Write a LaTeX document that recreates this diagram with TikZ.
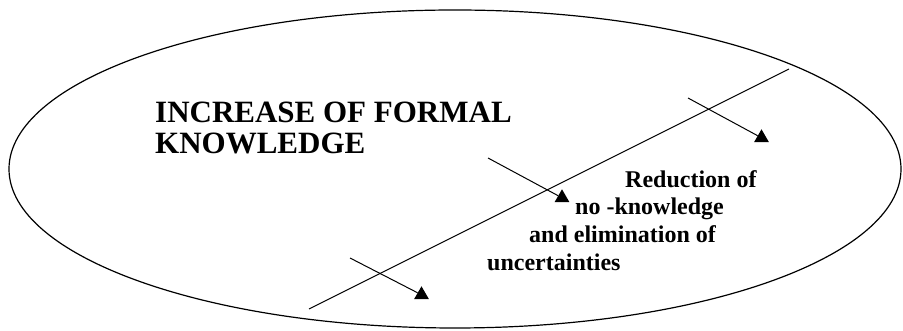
\documentclass[tikz,border=0pt]{standalone}
\usepackage{fontspec}
\setmainfont{Liberation Serif}
\usetikzlibrary{shapes.geometric}
\tikzset{
  outline/.style={draw=black, line width=1.2pt, ellipse, inner sep=0pt},
  thinline/.style={draw=black, line width=1pt},
  tri/.style={regular polygon, regular polygon sides=3, minimum size=17pt, inner sep=0pt, fill=black, draw=none},
  headtxt/.style={anchor=base west, inner sep=0pt, font=\bfseries\fontsize{31}{31}\selectfont},
  bodytxt/.style={anchor=base west, inner sep=0pt, font=\bfseries\fontsize{24}{27}\selectfont}
}
\begin{document}
\begin{tikzpicture}[x=1pt,y=1pt]
\useasboundingbox (0,0) rectangle (903,331);
\node[outline, minimum width=892pt, minimum height=318pt] (ell) at (455,162) {};
% main diagonal line
\coordinate (m1) at (309,22);
\coordinate (m2) at (789,262);
\draw[thinline] (m1) -- (m2);
% arrows
\node[tri] (t1) at (761.5,193.2) {};
\node[tri] (t2) at (562,133.2) {};
\node[tri] (t3) at (421.5,36.2) {};
\coordinate (s1) at (688,233);
\coordinate (s2) at (488,173);
\coordinate (s3) at (350,73);
\draw[thinline] (s1) -- (t1);
\draw[thinline] (s2) -- (t2);
\draw[thinline] (s3) -- (t3);
% texts
\node[headtxt] (h1) at (155,208) {INCREASE OF FORMAL};
\node[headtxt] (h2) at (155,177) {KNOWLEDGE};
\node[bodytxt] (b1) at (625,143) {Reduction of};
\node[bodytxt] (b2) at (575,116) {no -knowledge};
\node[bodytxt] (b3) at (529,88) {and elimination of};
\node[bodytxt] (b4) at (487,60) {uncertainties};
\end{tikzpicture}
\end{document}
